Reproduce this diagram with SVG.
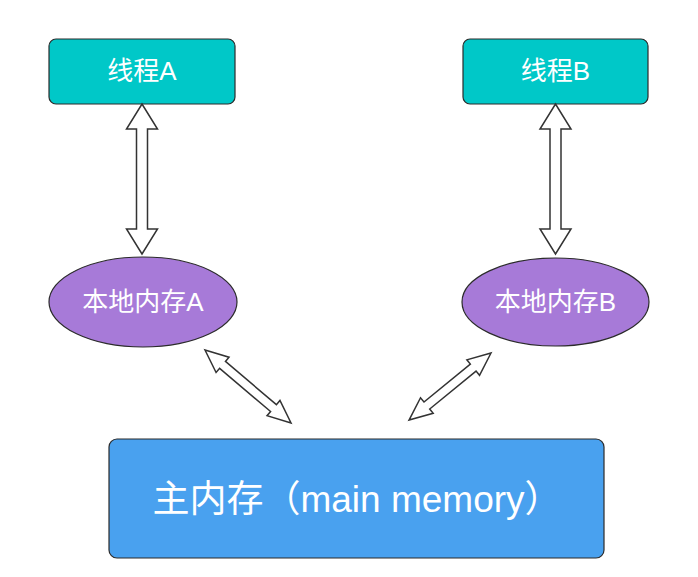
<svg xmlns="http://www.w3.org/2000/svg" width="698" height="577" viewBox="0 0 698 577">
<style>
.thread{fill:#00C8C8;stroke:#2b2b2b;stroke-width:1.2}
.local{fill:#A77AD8;stroke:#2b2b2b;stroke-width:1.2}
.main{fill:#49A1EF;stroke:#2b2b2b;stroke-width:1.2}
.lbl{fill:#fff;font-family:"Liberation Sans","Noto Sans CJK SC",sans-serif;text-anchor:middle;dominant-baseline:central}
.arr{fill:#fff;stroke:#333;stroke-width:1.5;stroke-linejoin:miter}
</style>
<rect width="698" height="577" fill="#fff"/>
<g id="threadA"><rect class="thread" x="49" y="39" width="186" height="65" rx="7"/><text class="lbl" x="142" y="71" font-size="26">线程A</text></g>
<g id="threadB"><rect class="thread" x="463" y="39" width="185" height="65" rx="7"/><text class="lbl" x="555.5" y="71" font-size="26">线程B</text></g>
<g id="localA"><ellipse class="local" cx="143" cy="302" rx="94" ry="45"/><text class="lbl" x="143" y="302" font-size="26">本地内存A</text></g>
<g id="localB"><ellipse class="local" cx="555.5" cy="302" rx="93.5" ry="44"/><text class="lbl" x="555.5" y="302" font-size="26">本地内存B</text></g>
<g id="mainMemory"><rect class="main" x="109" y="439" width="495" height="119" rx="8"/><text class="lbl" x="357" y="499" font-size="37">主内存（main memory）</text></g>
<g id="connectors">
<polygon class="arr" points="142,104 157.5,129 147.5,129 147.5,229 157.5,229 142,254 126.5,229 136.5,229 136.5,129 126.5,129"/>
<polygon class="arr" points="555.5,104 571,129 561,129 561,229 571,229 555.5,254 540,229 550,229 550,129 540,129"/>
<g transform="translate(205,350) rotate(40.3)"><polygon class="arr" points="0,0 23,-10 23,-4.5 89.8,-4.5 89.8,-10 112.8,0 89.8,10 89.8,4.5 23,4.5 23,10"/></g>
<g transform="translate(491,353) rotate(140.7)"><polygon class="arr" points="0,0 23,-10 23,-4.5 82.9,-4.5 82.9,-10 105.9,0 82.9,10 82.9,4.5 23,4.5 23,10"/></g>
</g>
</svg>
